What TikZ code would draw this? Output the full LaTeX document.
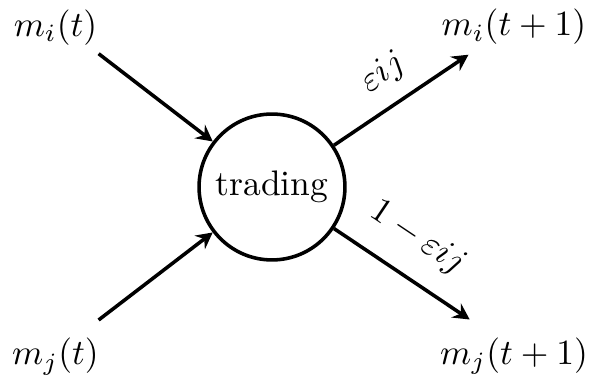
\documentclass[tikz,border=0pt]{standalone}
\usetikzlibrary{arrows.meta}
\begin{document}
\begin{tikzpicture}[x=0.2817pt,y=-0.2817pt,
  flow/.style={-{Stealth[length=4.6pt,width=4.8pt,inset=1.6pt]},line width=1pt},
  proc/.style={circle,draw,line width=1pt,minimum size=41.1pt,inner sep=0pt},
  lbl/.style={inner sep=0pt}]
\path[use as bounding box] (0,0) rectangle (590,376);
\node[proc] (trading) at (272,187) {trading};
\node[lbl] (mit) at (55.5,27.5) {$m_i(t)$};
\node[lbl] (mjt) at (55.5,356.5) {$m_j(t)$};
\node[lbl] (mit1) at (514,27) {$m_i(t+1)$};
\node[lbl] (mjt1) at (514,356) {$m_j(t+1)$};
\coordinate (a1) at (98.6,53.7);
\coordinate (a2) at (98.6,320);
\coordinate (b1) at (468.5,54.7);
\coordinate (b2) at (469.7,319.5);
\draw[flow] (a1) -- (trading);
\draw[flow] (a2) -- (trading);
\draw[flow] (trading) -- node[midway,above=0.9pt,sloped] {$\varepsilon ij$} (b1);
\draw[flow] (trading) -- node[pos=0.46,above=2.7pt,sloped] {$1-\varepsilon ij$} (b2);
\end{tikzpicture}
\end{document}
